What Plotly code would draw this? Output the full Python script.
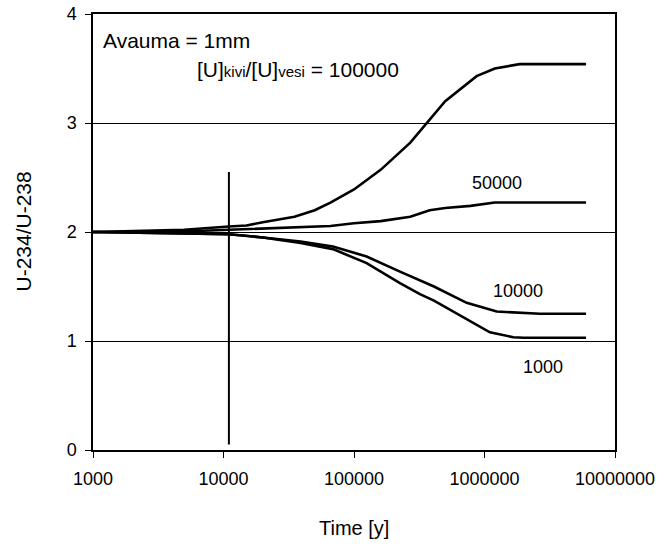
import plotly.graph_objects as go

# ---- data ----
t_100000 = [1000, 3000, 5000, 11000, 15000, 20000, 35000, 50000, 66000, 100000, 160000,
            270000, 360000, 500000, 870000, 1200000, 1860000, 6000000]
r_100000 = [2.00, 2.01, 2.02, 2.05, 2.06, 2.09, 2.14, 2.20, 2.27, 2.39, 2.57,
            2.82, 3.00, 3.20, 3.43, 3.50, 3.54, 3.54]

t_50000 = [1000, 5000, 11000, 20000, 40000, 66000, 100000, 160000, 270000, 380000,
           500000, 780000, 1200000, 6000000]
r_50000 = [2.00, 2.005, 2.02, 2.03, 2.04, 2.055, 2.08, 2.10, 2.14, 2.20,
           2.22, 2.24, 2.27, 2.27]

t_10000 = [1000, 5000, 11000, 20000, 39000, 69000, 125000, 225000, 320000, 410000,
           730000, 1240000, 2660000, 6000000]
r_10000 = [2.00, 1.99, 1.98, 1.95, 1.913, 1.867, 1.775, 1.637, 1.56, 1.50,
           1.35, 1.27, 1.25, 1.25]

t_1000 = [1000, 5000, 11000, 20000, 39000, 69000, 125000, 225000, 320000, 410000,
          730000, 1100000, 1660000, 2000000, 6000000]
r_1000 = [2.00, 1.99, 1.98, 1.95, 1.90, 1.843, 1.714, 1.53, 1.43, 1.37,
          1.20, 1.08, 1.035, 1.03, 1.03]

marker_t = [11000, 11000]
marker_r = [0.05, 2.55]

x_tickvals = [1000, 10000, 100000, 1000000, 10000000]
x_ticktext = ["1000", "10000", "100000", "1000000", "10000000"]
y_tickvals = [0, 1, 2, 3, 4]

FONT = "Arial, 'Liberation Sans', sans-serif"

fig = go.Figure()
for tx, ry in [(t_100000, r_100000), (t_50000, r_50000), (t_10000, r_10000), (t_1000, r_1000)]:
    fig.add_trace(go.Scatter(x=tx, y=ry, mode="lines",
                             line=dict(color="black", width=2.6), showlegend=False,
                             hoverinfo="skip"))
fig.add_trace(go.Scatter(x=marker_t, y=marker_r, mode="lines",
                         line=dict(color="black", width=2), showlegend=False,
                         hoverinfo="skip"))

ann_font = dict(family=FONT, size=21, color="black")
fig.add_annotation(x=3.06, y=3.76, text="Avauma = 1mm", showarrow=False,
                   xanchor="left", yanchor="middle", font=ann_font)
fig.add_annotation(x=3.78, y=3.49,
                   text="[U]<span style='font-size:15px'>kivi</span>/[U]<span style='font-size:15px'>vesi</span> = 100000",
                   showarrow=False, xanchor="left", yanchor="middle", font=ann_font)
lab_font = dict(family=FONT, size=18, color="black")
fig.add_annotation(x=6.098, y=2.45, text="50000", showarrow=False, font=lab_font)
fig.add_annotation(x=6.254, y=1.46, text="10000", showarrow=False, font=lab_font)
fig.add_annotation(x=6.448, y=0.76, text="1000", showarrow=False, font=lab_font)

# axis titles placed in paper coordinates
fig.add_annotation(x=0.5, y=-0.178, xref="paper", yref="paper", text="Time [y]",
                   showarrow=False, xanchor="center", yanchor="middle",
                   font=dict(family=FONT, size=20, color="black"))
fig.add_annotation(x=-0.135, y=0.5, xref="paper", yref="paper", text="U-234/U-238",
                   textangle=-90, showarrow=False, xanchor="center", yanchor="middle",
                   font=dict(family=FONT, size=21, color="black"))

fig.update_xaxes(type="log", range=[3, 7], tickvals=x_tickvals, ticktext=x_ticktext,
                 ticks="outside", ticklen=6, tickcolor="black", tickwidth=1,
                 ticklabelstandoff=6, automargin=False,
                 showline=True, linecolor="black", linewidth=1.5, mirror=True,
                 showgrid=False, zeroline=False,
                 tickfont=dict(family=FONT, size=18, color="black"))
fig.update_yaxes(range=[0, 4], tickvals=y_tickvals,
                 ticks="outside", ticklen=6, tickcolor="black", tickwidth=1,
                 ticklabelstandoff=5, automargin=False,
                 showline=True, linecolor="black", linewidth=1.5, mirror=True,
                 showgrid=True, gridcolor="black", gridwidth=1, zeroline=False,
                 tickfont=dict(family=FONT, size=18, color="black"))

fig.update_layout(width=660, height=545, plot_bgcolor="white", paper_bgcolor="white",
                  margin=dict(l=93, r=45, t=14, b=95), showlegend=False)

fig.write_html("out.html")
